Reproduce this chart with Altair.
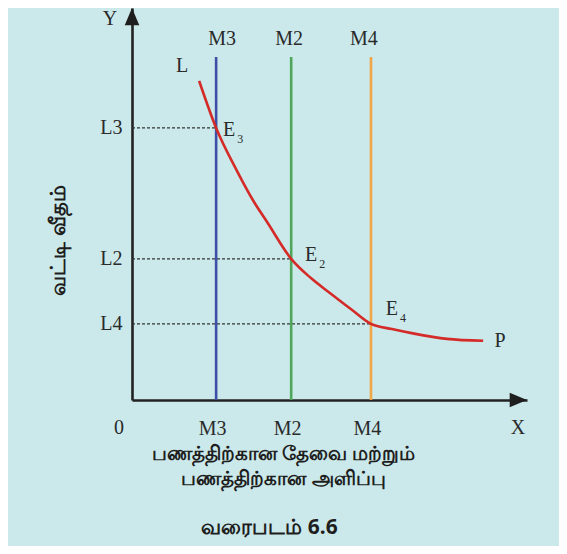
import altair as alt
import pandas as pd

# ---- data (in chart units: quantity of money on X, interest rate on Y) ----
m_names = ["M3", "M2", "M4"]
m_vals = [2.13, 4.03, 6.05]
m_colors = ["#3d4fa6", "#4ea65c", "#f0a548"]
l_names = ["L3", "L2", "L4"]
l_vals = [6.94, 3.60, 1.94]
e_names = ["3", "2", "4"]
supply_top = 8.75

curve_x = [1.70, 2.13, 2.66, 3.09, 3.42, 4.03, 4.53, 5.01, 5.54, 6.05, 6.58, 7.11, 7.97, 8.89]
curve_y = [8.14, 6.94, 5.84, 5.05, 4.54, 3.60, 3.11, 2.73, 2.32, 1.94, 1.81, 1.70, 1.56, 1.51]

y_title = "வட்டி வீதம்"
x_title = ["பணத்திற்கான தேவை மற்றும்", "பணத்திற்கான அளிப்பு"]
caption = "வரைபடம் 6.6"

# ---- styles ----
SERIF = "Liberation Serif"
TAMIL = "Noto Sans"
BG = "#cbe9ea"
INK = "#2a2a2a"
W, H = 395, 392

xs = alt.Scale(domain=[0, 10], nice=False, zero=False)
ys = alt.Scale(domain=[0, 10], nice=False, zero=False)


def label_expr(names, vals):
    parts = [f"abs(datum.value - {v}) < 0.001 ? '{n}'" for n, v in zip(names, vals)]
    return " : ".join(parts) + " : ''"


supply = pd.DataFrame({"name": m_names, "x": m_vals, "y0": 0.0, "y1": supply_top, "color": m_colors})
levels = pd.DataFrame({"name": l_names, "x0": 0.0, "x1": m_vals, "y": l_vals})
curve = pd.DataFrame({"x": curve_x, "y": curve_y})

x_axis = alt.Axis(
    values=m_vals, labelExpr=label_expr(m_names, m_vals), ticks=False, grid=False,
    domainColor="#222222", domainWidth=2.6, labelFont=SERIF, labelFontSize=20,
    labelColor=INK, labelPadding=18, labelAngle=0, labelOffset=-4,
    title=x_title, titleFont=TAMIL, titleFontSize=19.5, titleFontWeight="bold",
    titleColor="#1e1e1e", titleX=151, titleY=44, titleAnchor="middle", titleAlign="center",
    titleBaseline="top", titleLineHeight=25,
)
y_axis = alt.Axis(
    values=l_vals, labelExpr=label_expr(l_names, l_vals), ticks=False, grid=False,
    domainColor="#222222", domainWidth=2.6, labelFont=SERIF, labelFontSize=20,
    labelColor=INK, labelPadding=10,
    title=y_title, titleFont=TAMIL, titleFontSize=21, titleFontWeight="bold",
    titleColor="#1e1e1e", titleX=-74, titleY=232, titleAngle=270,
    titleAlign="center", titleBaseline="middle",
)

# dashed guides
dashes = alt.Chart(levels).mark_rule(color="#333333", strokeWidth=1.2, strokeDash=[3, 2]).encode(
    x=alt.X("x0:Q", scale=xs, axis=x_axis), x2="x1:Q",
    y=alt.Y("y:Q", scale=ys, axis=y_axis),
)

# money supply lines
rules = alt.Chart(supply).mark_rule(strokeWidth=2.6).encode(
    x=alt.X("x:Q", scale=xs), y=alt.Y("y0:Q", scale=ys), y2="y1:Q",
    color=alt.Color("color:N", scale=None),
)
top_dx = [6, -2, -7]
top_labels = [
    alt.Chart(supply.iloc[[i]]).mark_text(font=SERIF, fontSize=20, color=INK, dx=top_dx[i], dy=-18).encode(
        x=alt.X("x:Q", scale=xs), y=alt.Y("y1:Q", scale=ys), text="name:N")
    for i in range(3)
]

# liquidity preference curve
lp = alt.Chart(curve).mark_line(color="#d42a28", strokeWidth=2.6, interpolate="monotone").encode(
    x=alt.X("x:Q", scale=xs), y=alt.Y("y:Q", scale=ys),
)

end_pts = pd.DataFrame({"x": [curve_x[0], curve_x[-1]], "y": [curve_y[0], curve_y[-1]], "t": ["L", "P"]})
L_lab = alt.Chart(end_pts.iloc[[0]]).mark_text(font=SERIF, fontSize=20, color=INK, dx=-17, dy=-15).encode(
    x=alt.X("x:Q", scale=xs), y=alt.Y("y:Q", scale=ys), text="t:N")
P_lab = alt.Chart(end_pts.iloc[[1]]).mark_text(font=SERIF, fontSize=20, color=INK, dx=17, dy=0).encode(
    x=alt.X("x:Q", scale=xs), y=alt.Y("y:Q", scale=ys), text="t:N")

# equilibrium labels E3, E2, E4
e_offsets = [(13, 2), (20, -4), (21, -15)]
e_layers = []
for i in range(3):
    d = pd.DataFrame({"x": [m_vals[i]], "y": [l_vals[i]], "e": ["E"], "s": [e_names[i]]})
    dx, dy = e_offsets[i]
    e_layers.append(alt.Chart(d).mark_text(font=SERIF, fontSize=20, color=INK, dx=dx, dy=dy).encode(
        x=alt.X("x:Q", scale=xs), y=alt.Y("y:Q", scale=ys), text="e:N"))
    e_layers.append(alt.Chart(d).mark_text(font=SERIF, fontSize=12, color=INK, dx=dx + 11, dy=dy + 9).encode(
        x=alt.X("x:Q", scale=xs), y=alt.Y("y:Q", scale=ys), text="s:N"))

# axis arrows
arrows = pd.DataFrame({"x": [10.0, 0.0], "y": [0.0, 10.0],
                       "shape": ["M0,0L-1,-0.42L-1,0.42Z", "M0,0L-0.42,1L0.42,1Z"]})
arrow_marks = alt.Chart(arrows).mark_point(filled=True, color="#1e1e1e", opacity=1, size=1200, strokeWidth=0).encode(
    x=alt.X("x:Q", scale=xs), y=alt.Y("y:Q", scale=ys), shape=alt.Shape("shape:N", scale=None),
)

# axis letters 0, X, Y
corner = pd.DataFrame({"x": [0.0, 10.0, 0.0], "y": [0.0, 0.0, 10.0], "t": ["0", "X", "Y"],
                       "dx": [-13, -9, -22], "dy": [28, 28, 11]})
letter_layers = []
for _, r in corner.iterrows():
    letter_layers.append(
        alt.Chart(corner[corner.t == r.t]).mark_text(font=SERIF, fontSize=20, color=INK,
                                                     dx=int(r.dx), dy=int(r.dy)).encode(
            x=alt.X("x:Q", scale=xs), y=alt.Y("y:Q", scale=ys), text="t:N"))

chart = alt.layer(
    dashes, rules, *top_labels, lp, L_lab, P_lab, *e_layers, arrow_marks, *letter_layers
).properties(
    width=W, height=H,
    autosize=alt.AutoSizeParams(type="none"),
    padding={"left": 124, "top": 0, "right": 32, "bottom": 146},
    background=BG,
    title=alt.TitleParams(caption, orient="bottom", anchor="middle", font=TAMIL, fontSize=21,
                          fontWeight="bold", color="#1e1e1e", dx=-60, offset=29),
).configure_view(stroke=None)

chart.save("out.html", embed_options={"renderer": "svg", "actions": False})
